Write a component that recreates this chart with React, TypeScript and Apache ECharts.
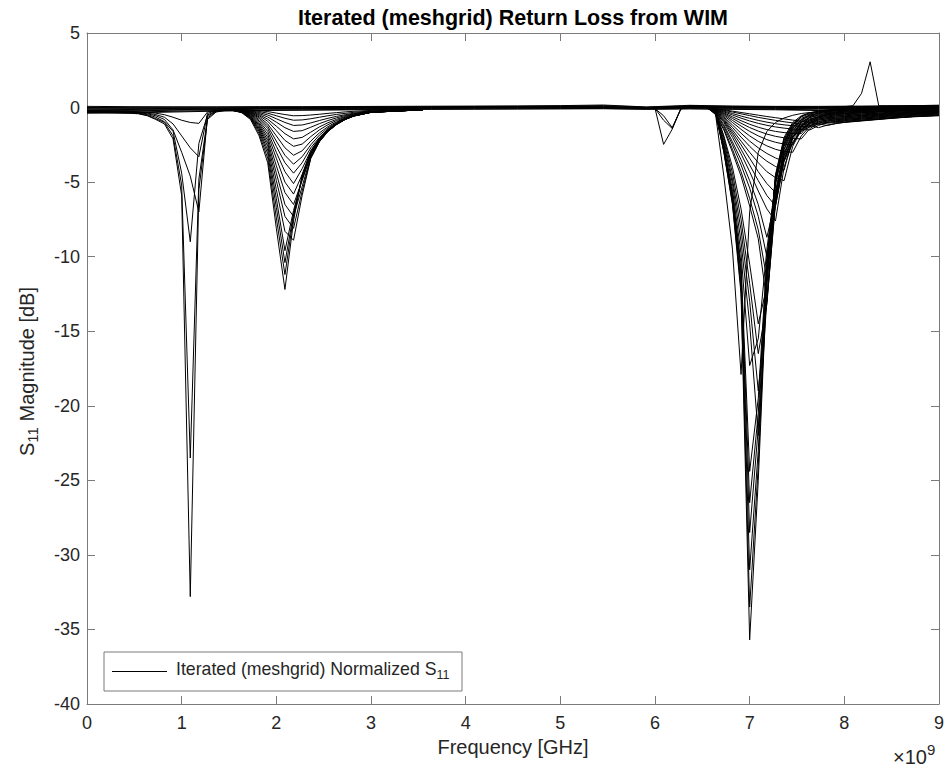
import React, { useEffect, useRef } from "react";
import * as echarts from "echarts";

// ---------- axis / text content ----------
const TITLE = "Iterated (meshgrid) Return Loss from WIM";
const X_NAME = "Frequency [GHz]";
const LEGEND_TEXT = "Iterated (meshgrid) Normalized S";
const X_MIN = 0;
const X_MAX = 9;
const X_STEP = 1;
const Y_MIN = -40;
const Y_MAX = 5;
const Y_STEP = 5;

// ---------- data (frequency in GHz, S11 in dB) ----------
// common band of nearly flat responses
const FREQ_BASE = [0, 0.4545, 0.9091, 1.3636, 1.8182, 2.2727, 2.7273, 3.1818, 3.6364, 4.0909, 4.5455, 5.0, 5.4545, 5.9091, 6.3636, 6.8182, 7.2727, 7.7273, 8.1818, 8.6364, 9.0];
const BASE_ROWS = [
  [0.08, 0.06, 0.05, 0.05, 0.06, 0.06, 0.07, 0.08, 0.09, 0.1, 0.11, 0.13, 0.17, 0.04, 0.15, 0.1, 0.08, 0.08, 0.1, 0.12, 0.15],
  [0.0, 0.01, 0.02, 0.02, 0.03, 0.03, 0.04, 0.05, 0.06, 0.07, 0.08, 0.1, 0.13, 0.02, 0.11, 0.08, 0.06, 0.05, 0.07, 0.09, 0.11],
  [-0.05, -0.04, -0.02, -0.02, 0.0, 0.0, 0.02, 0.03, 0.04, 0.05, 0.06, 0.07, 0.08, 0.0, 0.08, 0.05, 0.04, 0.03, 0.05, 0.07, 0.08],
  [-0.1, -0.08, -0.06, -0.05, -0.03, -0.02, 0.0, 0.0, 0.01, 0.02, 0.03, 0.04, 0.05, -0.02, 0.05, 0.02, 0.02, 0.0, 0.02, 0.04, 0.05],
  [-0.15, -0.13, -0.1, -0.08, -0.05, -0.05, -0.03, -0.02, -0.01, 0.0, 0.01, 0.02, 0.03, -0.04, 0.02, 0.0, 0.0, -0.02, 0.0, 0.01, 0.02],
  [-0.2, -0.18, -0.14, -0.11, -0.08, -0.07, -0.05, -0.04, -0.03, -0.02, -0.01, 0.0, 0.01, -0.05, 0.0, -0.02, -0.03, -0.05, -0.03, -0.02, -0.01],
  [-0.25, -0.22, -0.18, -0.14, -0.1, -0.1, -0.08, -0.07, -0.06, -0.05, -0.04, -0.03, -0.02, -0.07, -0.03, -0.05, -0.06, -0.08, -0.06, -0.05, -0.04],
  [-0.33, -0.3, -0.25, -0.2, -0.16, -0.15, -0.13, -0.11, -0.1, -0.09, -0.08, -0.07, -0.06, -0.1, -0.07, -0.1, -0.12, -0.15, -0.12, -0.1, -0.09],
  [-0.38, -0.36, -0.3, -0.24, -0.2, -0.18, -0.16, -0.13, -0.12, -0.11, -0.1, -0.09, -0.08, -0.12, -0.09, -0.12, -0.15, -0.2, -0.18, -0.15, -0.14],
];

// resonance near 1.1 GHz
const FREQ_DIP1 = [0, 0.2727, 0.4545, 0.5455, 0.6364, 0.7273, 0.8182, 0.9091, 1.0, 1.0909, 1.1818, 1.2727, 1.3636, 1.4545, 1.5455];
const DIP1_ROWS = [
  [-0.3, -0.35, -0.38, -0.42, -0.55, -0.8, -1.1, -2.1, -5.9, -32.8, -5.5, -0.8, -0.3, -0.2, -0.15],
  [-0.28, -0.33, -0.36, -0.4, -0.52, -0.75, -1.0, -1.9, -5.2, -23.5, -4.8, -0.7, -0.28, -0.18, -0.14],
  [-0.26, -0.3, -0.33, -0.37, -0.47, -0.65, -0.95, -1.6, -4.4, -9.0, -2.4, -0.5, -0.25, -0.17, -0.13],
  [-0.24, -0.28, -0.31, -0.34, -0.42, -0.55, -0.8, -1.5, -3.0, -4.6, -7.0, -0.6, -0.22, -0.16, -0.12],
  [-0.22, -0.26, -0.29, -0.31, -0.37, -0.47, -0.65, -1.1, -1.9, -2.7, -3.3, -0.4, -0.2, -0.15, -0.12],
  [-0.2, -0.23, -0.26, -0.28, -0.32, -0.38, -0.48, -0.65, -0.85, -1.0, -1.06, -0.3, -0.18, -0.14, -0.11],
];

// resonance near 2.1 GHz
const FREQ_DIP2 = [1.4545, 1.5455, 1.6364, 1.7273, 1.8182, 1.9091, 2.0, 2.0909, 2.1818, 2.2727, 2.3636, 2.4545, 2.5455, 2.6364, 2.7273, 2.8182, 3.0, 3.5455];
const DIP2_ROWS = [
  [-0.15, -0.2, -0.35, -0.8, -1.9, -3.7, -8.1, -12.2, -7.6, -4.5, -2.9, -2.05, -1.48, -1.07, -0.75, -0.53, -0.3, -0.15],
  [-0.15, -0.2, -0.33, -0.74, -1.75, -3.4, -7.4, -11.2, -7.3, -4.6, -3.0, -2.1, -1.5, -1.08, -0.76, -0.54, -0.31, -0.15],
  [-0.15, -0.2, -0.32, -0.7, -1.6, -3.1, -6.7, -10.4, -7.1, -4.7, -3.1, -2.15, -1.53, -1.1, -0.77, -0.55, -0.31, -0.15],
  [-0.15, -0.2, -0.3, -0.66, -1.5, -2.85, -6.1, -9.6, -6.9, -4.8, -3.2, -2.2, -1.56, -1.12, -0.78, -0.56, -0.32, -0.15],
  [-0.15, -0.2, -0.29, -0.62, -1.4, -2.6, -5.5, -8.3, -8.9, -5.9, -3.4, -2.3, -1.6, -1.14, -0.8, -0.57, -0.32, -0.15],
  [-0.15, -0.19, -0.28, -0.58, -1.3, -2.4, -4.9, -7.3, -8.1, -5.6, -3.4, -2.3, -1.6, -1.14, -0.8, -0.57, -0.32, -0.15],
  [-0.15, -0.19, -0.27, -0.54, -1.2, -2.2, -4.4, -6.5, -7.3, -5.3, -3.3, -2.28, -1.59, -1.13, -0.79, -0.57, -0.32, -0.15],
  [-0.15, -0.19, -0.26, -0.5, -1.1, -2.0, -3.9, -5.7, -6.5, -4.9, -3.2, -2.24, -1.57, -1.12, -0.79, -0.56, -0.32, -0.15],
  [-0.15, -0.18, -0.25, -0.46, -1.0, -1.8, -3.4, -5.0, -5.8, -4.5, -3.05, -2.18, -1.54, -1.1, -0.78, -0.56, -0.32, -0.15],
  [-0.15, -0.18, -0.24, -0.43, -0.9, -1.6, -3.0, -4.3, -5.1, -4.1, -2.9, -2.1, -1.5, -1.08, -0.77, -0.55, -0.31, -0.15],
  [-0.15, -0.18, -0.23, -0.4, -0.8, -1.4, -2.6, -3.7, -4.4, -3.7, -2.7, -2.0, -1.45, -1.05, -0.75, -0.54, -0.31, -0.15],
  [-0.14, -0.17, -0.22, -0.37, -0.7, -1.25, -2.25, -3.2, -3.8, -3.3, -2.5, -1.85, -1.37, -1.0, -0.73, -0.53, -0.3, -0.15],
  [-0.14, -0.17, -0.21, -0.34, -0.62, -1.1, -1.9, -2.7, -3.2, -2.9, -2.25, -1.7, -1.28, -0.95, -0.7, -0.51, -0.3, -0.15],
  [-0.14, -0.16, -0.2, -0.31, -0.54, -0.92, -1.55, -2.2, -2.6, -2.45, -1.95, -1.5, -1.15, -0.87, -0.65, -0.48, -0.29, -0.14],
  [-0.13, -0.15, -0.19, -0.28, -0.47, -0.78, -1.25, -1.75, -2.1, -2.0, -1.65, -1.3, -1.02, -0.79, -0.6, -0.45, -0.28, -0.14],
  [-0.13, -0.15, -0.18, -0.25, -0.4, -0.63, -0.98, -1.35, -1.6, -1.55, -1.32, -1.08, -0.87, -0.69, -0.54, -0.42, -0.27, -0.14],
  [-0.12, -0.14, -0.17, -0.22, -0.33, -0.5, -0.75, -1.0, -1.2, -1.17, -1.03, -0.87, -0.72, -0.59, -0.48, -0.38, -0.25, -0.13],
  [-0.12, -0.13, -0.15, -0.19, -0.26, -0.38, -0.55, -0.72, -0.85, -0.83, -0.75, -0.65, -0.55, -0.46, -0.39, -0.32, -0.23, -0.12],
  [-0.11, -0.12, -0.14, -0.16, -0.2, -0.27, -0.37, -0.47, -0.55, -0.54, -0.5, -0.45, -0.39, -0.34, -0.29, -0.25, -0.19, -0.11],
];

// small notch near 6.1 GHz
const FREQ_DIP6 = [5.9091, 6.0, 6.0909, 6.1818, 6.2727, 6.3636];
const DIP6_ROWS = [
  [-0.05, -0.05, -2.47, -1.45, -0.08, 0.05],
  [-0.05, -0.06, -0.85, -1.4, -0.09, 0.05],
  [-0.05, -0.07, -0.55, -1.35, -0.1, 0.04],
];

// resonance near 7 GHz, running on to the end of the band
const FREQ_DIP7 = [6.3636, 6.4545, 6.5455, 6.6364, 6.7273, 6.8182, 6.9091, 7.0, 7.0909, 7.1818, 7.2727, 7.3636, 7.4545, 7.5455, 7.6364, 7.7273, 7.8182, 7.9091, 8.0, 8.1818, 8.3636, 8.5455, 8.7273, 9.0];
const DIP7_ROWS = [
  [0.1, 0.12, 0.04, -0.25, -3.0, -6.5, -12.5, -35.7, -25.0, -11.5, -4.5, -2.0, -1.0, -0.55, -0.35, -0.25, -0.2, -0.16, -0.12, -0.08, -0.05, -0.02, 0.02, 0.06],
  [0.1, 0.12, 0.04, -0.25, -2.95, -6.4, -12.2, -33.5, -24.0, -11.2, -4.6, -2.1, -1.1, -0.62, -0.42, -0.31, -0.25, -0.21, -0.18, -0.13, -0.09, -0.06, -0.03, 0.02],
  [0.1, 0.11, 0.04, -0.24, -2.9, -6.2, -11.8, -31.0, -23.0, -10.9, -4.7, -2.2, -1.2, -0.72, -0.5, -0.38, -0.32, -0.28, -0.25, -0.2, -0.15, -0.11, -0.08, -0.03],
  [0.1, 0.11, 0.03, -0.24, -2.8, -6.0, -11.3, -28.5, -21.5, -10.6, -4.8, -2.3, -1.3, -0.82, -0.58, -0.46, -0.39, -0.35, -0.32, -0.27, -0.22, -0.17, -0.13, -0.08],
  [0.09, 0.11, 0.03, -0.23, -2.75, -5.9, -10.9, -26.5, -20.5, -10.3, -4.9, -2.4, -1.4, -0.92, -0.67, -0.54, -0.47, -0.43, -0.4, -0.34, -0.28, -0.23, -0.18, -0.12],
  [0.09, 0.11, 0.03, -0.23, -2.7, -5.8, -10.5, -24.4, -19.5, -10.0, -5.0, -2.5, -1.5, -1.0, -0.75, -0.62, -0.55, -0.51, -0.48, -0.42, -0.36, -0.3, -0.25, -0.18],
  [0.12, 0.14, 0.05, -0.3, -4.6, -9.5, -17.9, -7.0, -3.0, -1.6, -1.0, -0.7, -0.52, -0.4, -0.33, -0.29, -0.26, -0.24, -0.22, -0.18, -0.14, -0.1, -0.07, -0.02],
  [0.09, 0.1, 0.03, -0.22, -2.6, -5.5, -9.8, -17.3, -15.5, -9.5, -5.0, -2.6, -1.6, -1.1, -0.82, -0.69, -0.62, -0.58, -0.55, -0.49, -0.42, -0.36, -0.3, -0.23],
  [0.08, 0.1, 0.02, -0.21, -2.4, -5.1, -9.0, -14.5, -22.0, -12.8, -5.6, -2.8, -1.7, -1.18, -0.9, -0.76, -0.69, -0.65, -0.62, -0.55, -0.48, -0.41, -0.35, -0.27],
  [0.08, 0.1, 0.02, -0.2, -2.2, -4.8, -8.2, -13.0, -19.0, -13.0, -5.9, -3.0, -1.8, -1.25, -0.97, -0.84, -0.77, -0.73, -0.7, -0.62, -0.54, -0.47, -0.4, -0.32],
  [0.08, 0.09, 0.02, -0.19, -2.0, -4.4, -7.5, -11.8, -16.5, -13.2, -6.2, -3.1, -1.9, -1.33, -1.05, -0.92, -0.85, -0.81, -0.78, -0.7, -0.61, -0.53, -0.46, -0.37],
  [0.08, 0.09, 0.02, -0.18, -1.9, -4.0, -6.8, -10.5, -14.5, -12.0, -5.2, -2.4, -1.2, -0.6, -0.35, -0.25, -0.2, -0.17, -0.15, -0.11, -0.07, -0.04, -0.01, 0.04],
  [0.07, 0.08, 0.01, -0.45, -1.5, -3.0, -4.6, -6.6, -8.8, -13.0, -6.5, -3.3, -2.0, -1.4, -1.12, -0.99, -0.92, -0.88, -0.85, -0.77, -0.68, -0.6, -0.52, -0.43],
  [0.07, 0.08, 0.01, -0.42, -1.4, -2.8, -4.3, -6.1, -8.2, -11.5, -6.0, -2.8, -1.4, -0.8, -0.52, -0.4, -0.34, -0.31, -0.28, -0.23, -0.18, -0.14, -0.1, -0.05],
  [0.06, 0.07, 0.0, -0.38, -1.25, -2.5, -3.85, -5.4, -7.3, -10.0, -6.6, -3.5, -2.1, -1.5, -1.2, -1.06, -0.99, -0.95, -0.92, -0.83, -0.74, -0.65, -0.57, -0.48],
  [0.06, 0.07, 0.0, -0.35, -1.15, -2.3, -3.5, -4.9, -6.5, -8.7, -6.2, -3.2, -1.7, -1.0, -0.65, -0.5, -0.42, -0.39, -0.36, -0.3, -0.25, -0.2, -0.15, -0.1],
  [0.05, 0.06, 0.0, -0.32, -1.0, -2.0, -3.1, -4.3, -5.6, -6.8, -7.6, -4.0, -2.3, -1.6, -1.28, -1.13, -1.05, -1.0, -0.97, -0.88, -0.78, -0.69, -0.61, -0.52],
  [0.05, 0.06, 0.0, -0.3, -0.92, -1.8, -2.8, -3.85, -4.9, -5.9, -6.6, -3.6, -2.0, -1.2, -0.8, -0.6, -0.51, -0.47, -0.44, -0.37, -0.31, -0.26, -0.21, -0.15],
  [0.05, 0.06, 0.0, -0.28, -0.85, -1.65, -2.5, -3.4, -4.3, -5.1, -5.7, -3.5, -2.0, -1.25, -0.87, -0.68, -0.59, -0.55, -0.52, -0.45, -0.38, -0.32, -0.27, -0.2],
  [0.05, 0.05, 0.0, -0.26, -0.78, -1.5, -2.25, -3.0, -3.7, -4.3, -4.7, -4.9, -2.6, -1.5, -1.0, -0.78, -0.67, -0.63, -0.6, -0.52, -0.45, -0.38, -0.32, -0.25],
  [0.05, 0.05, 0.0, -0.24, -0.7, -1.33, -1.98, -2.6, -3.15, -3.6, -3.95, -4.2, -2.0, -0.9, -0.45, -0.25, -0.16, -0.12, -0.1, -0.06, -0.03, 0.0, 0.03, 0.08],
  [0.04, 0.05, 0.0, -0.22, -0.62, -1.17, -1.72, -2.25, -2.7, -3.08, -3.38, -3.6, -2.4, -1.5, -1.05, -0.84, -0.74, -0.7, -0.67, -0.59, -0.51, -0.44, -0.37, -0.29],
  [0.04, 0.05, 0.0, -0.2, -0.54, -1.0, -1.46, -1.9, -2.27, -2.57, -2.8, -2.95, -3.0, -1.9, -1.25, -0.95, -0.82, -0.77, -0.74, -0.66, -0.57, -0.49, -0.42, -0.34],
  [0.04, 0.04, 0.0, -0.18, -0.47, -0.86, -1.24, -1.6, -1.9, -2.15, -2.33, -2.45, -2.5, -1.3, -0.6, -0.35, -0.26, -0.22, -0.2, -0.16, -0.12, -0.09, -0.06, -0.01],
  [0.04, 0.04, 0.0, -0.17, -0.41, -0.73, -1.05, -1.34, -1.58, -1.78, -1.93, -2.03, -2.08, -2.1, -1.4, -1.05, -0.9, -0.84, -0.81, -0.72, -0.63, -0.55, -0.47, -0.38],
  [0.03, 0.04, 0.0, -0.15, -0.35, -0.62, -0.88, -1.12, -1.32, -1.48, -1.6, -1.68, -1.73, -1.75, -1.0, -0.62, -0.48, -0.43, -0.4, -0.34, -0.28, -0.23, -0.18, -0.12],
  [0.03, 0.03, 0.0, -0.14, -0.29, -0.5, -0.71, -0.9, -1.06, -1.19, -1.3, -1.38, -1.44, -1.48, -1.5, -1.2, -1.0, -0.93, -0.88, -0.78, -0.69, -0.6, -0.52, -0.43],
  [0.03, 0.03, 0.0, -0.12, -0.24, -0.4, -0.57, -0.72, -0.86, -0.98, -1.08, -1.16, -1.22, -1.27, -1.3, -0.7, -0.42, -0.34, -0.3, -0.25, -0.2, -0.16, -0.12, -0.07],
  [0.02, 0.03, 0.0, -0.1, -0.19, -0.3, -0.42, -0.54, -0.66, -0.76, -0.86, -0.95, -1.03, -1.11, -1.2, -1.35, -1.18, -1.07, -1.0, -0.9, -0.8, -0.7, -0.62, -0.55],
  [0.02, 0.02, 0.0, -0.08, -0.15, -0.24, -0.33, -0.42, -0.51, -0.6, -0.68, -0.76, -0.84, -0.92, -1.0, -1.1, -1.2, -1.08, -0.98, -0.87, -0.77, -0.68, -0.6, -0.52],
];

// single spike near 8.3 GHz
const FREQ_SPIKE = [8.0, 8.0909, 8.1818, 8.2727, 8.3636, 8.4545, 8.5455, 8.7273, 9.0];
const SPIKE_ROW = [0.06, 0.12, 0.95, 3.07, 0.12, 0.12, 0.12, 0.13, 0.15];

// ---------- styling ----------
const FONT = '"Liberation Sans", Arial, Helvetica, sans-serif';
const AXIS_COLOR = "#7a7a7a";
const TEXT_COLOR = "#262626";
const PLOT_LEFT = 87;
const PLOT_TOP = 33;
const PLOT_W = 852;
const PLOT_H = 671;

function makeSeries(freq: number[], rows: number[][], prefix: string) {
  return rows.map((row, i) => ({
    name: prefix + i,
    type: "line",
    xAxisIndex: 0,
    yAxisIndex: 0,
    data: freq.map((f, j) => [f, row[j]]),
    showSymbol: false,
    symbol: "none",
    silent: true,
    emphasis: { disabled: true },
    lineStyle: { color: "#000", width: 1 },
    z: 2,
  }));
}

function axisCommon(showLabel: boolean) {
  return {
    type: "value",
    axisLine: { show: true, onZero: false, lineStyle: { color: AXIS_COLOR, width: 1 } },
    axisTick: { show: true, inside: true, length: 8, lineStyle: { color: AXIS_COLOR, width: 1 } },
    splitLine: { show: false },
    axisLabel: {
      show: showLabel,
      color: TEXT_COLOR,
      fontSize: 18,
      fontFamily: FONT,
      showMinLabel: true,
      showMaxLabel: true,
    },
  };
}

function buildOption() {
  const series = [
    ...makeSeries(FREQ_BASE, BASE_ROWS, "base"),
    ...makeSeries(FREQ_DIP1, DIP1_ROWS, "d1_"),
    ...makeSeries(FREQ_DIP2, DIP2_ROWS, "d2_"),
    ...makeSeries(FREQ_DIP6, DIP6_ROWS, "d6_"),
    ...makeSeries(FREQ_DIP7, DIP7_ROWS, "d7_"),
    ...makeSeries(FREQ_SPIKE, [SPIKE_ROW], "spike"),
  ];

  const xBottom: any = axisCommon(true);
  Object.assign(xBottom, { min: X_MIN, max: X_MAX, interval: X_STEP, position: "bottom" });
  xBottom.axisLabel.margin = 10;
  const xTop: any = axisCommon(false);
  Object.assign(xTop, { min: X_MIN, max: X_MAX, interval: X_STEP, position: "top" });

  const yLeft: any = axisCommon(true);
  Object.assign(yLeft, { min: Y_MIN, max: Y_MAX, interval: Y_STEP, position: "left" });
  yLeft.axisLabel.margin = 7;
  const yRight: any = axisCommon(false);
  Object.assign(yRight, { min: Y_MIN, max: Y_MAX, interval: Y_STEP, position: "right" });

  return {
    animation: false,
    backgroundColor: "#ffffff",
    grid: { left: PLOT_LEFT, top: PLOT_TOP, width: PLOT_W, height: PLOT_H, containLabel: false },
    xAxis: [xBottom, xTop],
    yAxis: [yLeft, yRight],
    series,
    graphic: [
      {
        type: "text",
        x: PLOT_LEFT + PLOT_W / 2,
        y: 18,
        style: {
          text: TITLE,
          fontSize: 21.5,
          fontWeight: "bold",
          fontFamily: FONT,
          fill: "#000",
          align: "center",
          verticalAlign: "middle",
        },
      },
      {
        type: "text",
        x: PLOT_LEFT + PLOT_W / 2,
        y: 747,
        style: {
          text: X_NAME,
          fontSize: 20,
          fontFamily: FONT,
          fill: TEXT_COLOR,
          align: "center",
          verticalAlign: "middle",
        },
      },
      {
        type: "text",
        x: 27,
        y: PLOT_TOP + PLOT_H / 2 + 3,
        rotation: Math.PI / 2,
        style: {
          text: "{n|S}{sub|11}{n| Magnitude [dB]}",
          fontFamily: FONT,
          fill: TEXT_COLOR,
          align: "center",
          verticalAlign: "middle",
          rich: {
            n: { fontSize: 20, fontFamily: FONT, fill: TEXT_COLOR, lineHeight: 26 },
            sub: { fontSize: 15, fontFamily: FONT, fill: TEXT_COLOR, lineHeight: 10, verticalAlign: "bottom" },
          },
        },
      },
      {
        type: "text",
        x: 893,
        y: 757,
        style: {
          text: "{n|×10}{sup|9}",
          fontFamily: FONT,
          fill: TEXT_COLOR,
          align: "left",
          verticalAlign: "middle",
          rich: {
            n: { fontSize: 20, fontFamily: FONT, fill: TEXT_COLOR, lineHeight: 30 },
            sup: { fontSize: 15, fontFamily: FONT, fill: TEXT_COLOR, lineHeight: 12, verticalAlign: "top" },
          },
        },
      },
      {
        type: "rect",
        shape: { x: 104, y: 652, width: 358, height: 39 },
        style: { fill: "#ffffff", stroke: AXIS_COLOR, lineWidth: 1 },
        z: 10,
      },
      {
        type: "line",
        shape: { x1: 112, y1: 671.5, x2: 167, y2: 671.5 },
        style: { stroke: "#000", lineWidth: 1 },
        z: 11,
      },
      {
        type: "text",
        x: 176,
        y: 669,
        z: 11,
        style: {
          text: "{n|" + LEGEND_TEXT + "}{sub|11}",
          fontFamily: FONT,
          fill: TEXT_COLOR,
          align: "left",
          verticalAlign: "middle",
          rich: {
            n: { fontSize: 17.7, fontFamily: FONT, fill: TEXT_COLOR, lineHeight: 24 },
            sub: { fontSize: 12.5, fontFamily: FONT, fill: TEXT_COLOR, lineHeight: 8, verticalAlign: "bottom" },
          },
        },
      },
    ],
  };
}

export default function App() {
  const ref = useRef<HTMLDivElement>(null);
  useEffect(() => {
    if (!ref.current) return;
    const chart = echarts.init(ref.current, null, { renderer: "svg" });
    chart.setOption(buildOption() as any);
    return () => {
      chart.dispose();
    };
  }, []);
  return (
    <div
      ref={ref}
      style={{ position: "absolute", left: 0, top: 0, width: 948, height: 767, background: "#ffffff" }}
    />
  );
}
